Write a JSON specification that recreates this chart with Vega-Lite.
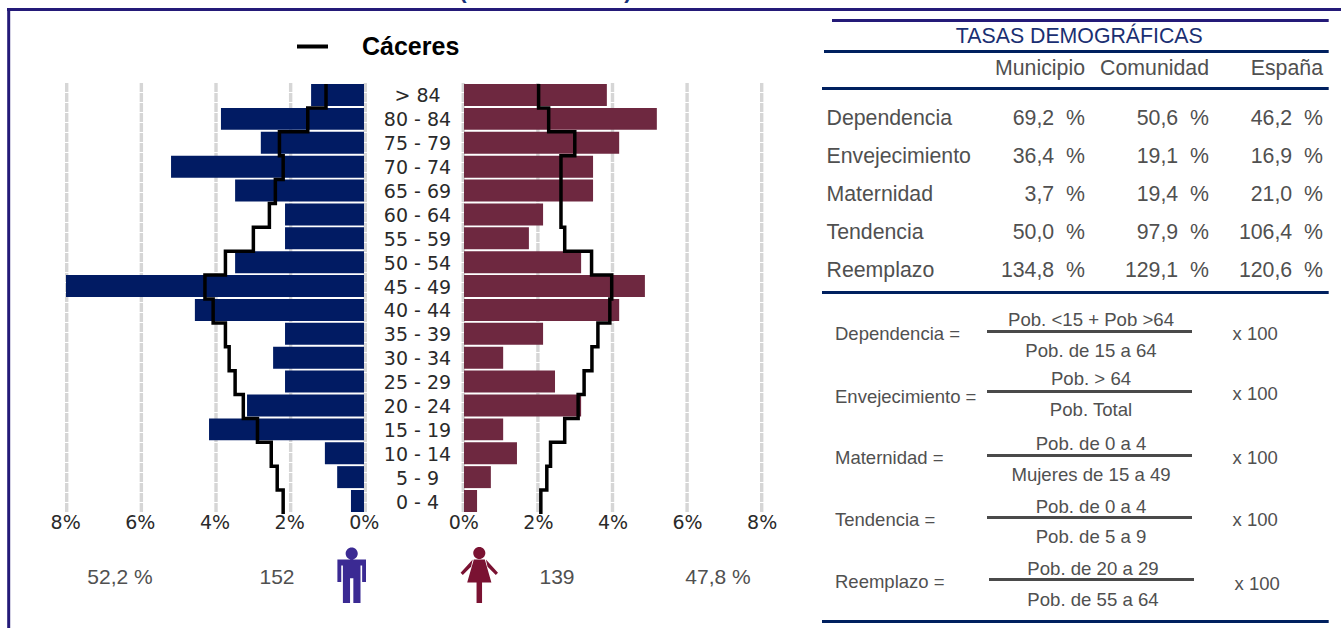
{
"$schema":"https://vega.github.io/schema/vega-lite/v6.json",
"width":1341,"height":628,"padding":0,"autosize":{"type":"none"},"background":"white",
"config":{"view":{"stroke":null},"text":{"font":"Liberation Sans","color":"#505050","fontSize":21.3,"baseline":"middle"},"axis":{"domain":false,"ticks":false,"grid":false,"title":null}},
"resolve":{"scale":{"x":"independent","y":"independent","color":"independent","stroke":"independent","shape":"independent"},"axis":{"x":"independent","y":"independent"}},
"datasets":{
"marcas":[{"pct":0},{"pct":2},{"pct":4},{"pct":6},{"pct":8}],
"edades":[
{"edad":"> 84","hombres":1.42,"mujeres":3.83},{"edad":"80 - 84","hombres":3.84,"mujeres":5.17},{"edad":"75 - 79","hombres":2.77,"mujeres":4.16},{"edad":"70 - 74","hombres":5.18,"mujeres":3.46},{"edad":"65 - 69","hombres":3.46,"mujeres":3.46},{"edad":"60 - 64","hombres":2.12,"mujeres":2.12},{"edad":"55 - 59","hombres":2.12,"mujeres":1.74},{"edad":"50 - 54","hombres":3.46,"mujeres":3.14},{"edad":"45 - 49","hombres":8.0,"mujeres":4.85},{"edad":"40 - 44","hombres":4.54,"mujeres":4.16},{"edad":"35 - 39","hombres":2.12,"mujeres":2.12},{"edad":"30 - 34","hombres":2.44,"mujeres":1.05},{"edad":"25 - 29","hombres":2.12,"mujeres":2.44},{"edad":"20 - 24","hombres":3.14,"mujeres":3.14},{"edad":"15 - 19","hombres":4.16,"mujeres":1.05},{"edad":"10 - 14","hombres":1.05,"mujeres":1.42},{"edad":"5 - 9","hombres":0.72,"mujeres":0.72},{"edad":"0 - 4","hombres":0.35,"mujeres":0.35}],
"perfil":[
{"orden":1,"serie":"Cáceres","edad":"> 84","hombres":1.02,"mujeres":2.0},{"orden":2,"serie":"Cáceres","edad":"80 - 84","hombres":1.51,"mujeres":2.27},{"orden":3,"serie":"Cáceres","edad":"75 - 79","hombres":2.27,"mujeres":2.97},{"orden":4,"serie":"Cáceres","edad":"70 - 74","hombres":2.17,"mujeres":2.6},{"orden":5,"serie":"Cáceres","edad":"65 - 69","hombres":2.38,"mujeres":2.6},{"orden":6,"serie":"Cáceres","edad":"60 - 64","hombres":2.54,"mujeres":2.6},{"orden":7,"serie":"Cáceres","edad":"55 - 59","hombres":2.97,"mujeres":2.7},{"orden":8,"serie":"Cáceres","edad":"50 - 54","hombres":3.72,"mujeres":3.42},{"orden":9,"serie":"Cáceres","edad":"45 - 49","hombres":4.27,"mujeres":3.96},{"orden":10,"serie":"Cáceres","edad":"40 - 44","hombres":4.05,"mujeres":3.91},{"orden":11,"serie":"Cáceres","edad":"35 - 39","hombres":3.72,"mujeres":3.59},{"orden":12,"serie":"Cáceres","edad":"30 - 34","hombres":3.62,"mujeres":3.43},{"orden":13,"serie":"Cáceres","edad":"25 - 29","hombres":3.46,"mujeres":3.22},{"orden":14,"serie":"Cáceres","edad":"20 - 24","hombres":3.24,"mujeres":3.06},{"orden":15,"serie":"Cáceres","edad":"15 - 19","hombres":2.86,"mujeres":2.7},{"orden":16,"serie":"Cáceres","edad":"10 - 14","hombres":2.49,"mujeres":2.32},{"orden":17,"serie":"Cáceres","edad":"5 - 9","hombres":2.33,"mujeres":2.22},{"orden":18,"serie":"Cáceres","edad":"0 - 4","hombres":2.17,"mujeres":2.06},{"orden":19,"serie":"Cáceres","edad":"base","hombres":2.17,"mujeres":2.06}],
"sexos":[{"sexo":"Hombres","personas":152,"porcentaje":"52,2 %"},{"sexo":"Mujeres","personas":139,"porcentaje":"47,8 %"}],
"ambitos":[{"ambito":"Municipio"},{"ambito":"Comunidad"},{"ambito":"España"}],
"tasas":[
{"tasa":"Dependencia","ambito":"Municipio","valor":69.2,"texto":"69,2\u00a0\u00a0%"},{"tasa":"Dependencia","ambito":"Comunidad","valor":50.6,"texto":"50,6\u00a0\u00a0%"},{"tasa":"Dependencia","ambito":"España","valor":46.2,"texto":"46,2\u00a0\u00a0%"},
{"tasa":"Envejecimiento","ambito":"Municipio","valor":36.4,"texto":"36,4\u00a0\u00a0%"},{"tasa":"Envejecimiento","ambito":"Comunidad","valor":19.1,"texto":"19,1\u00a0\u00a0%"},{"tasa":"Envejecimiento","ambito":"España","valor":16.9,"texto":"16,9\u00a0\u00a0%"},
{"tasa":"Maternidad","ambito":"Municipio","valor":3.7,"texto":"3,7\u00a0\u00a0%"},{"tasa":"Maternidad","ambito":"Comunidad","valor":19.4,"texto":"19,4\u00a0\u00a0%"},{"tasa":"Maternidad","ambito":"España","valor":21.0,"texto":"21,0\u00a0\u00a0%"},
{"tasa":"Tendencia","ambito":"Municipio","valor":50.0,"texto":"50,0\u00a0\u00a0%"},{"tasa":"Tendencia","ambito":"Comunidad","valor":97.9,"texto":"97,9\u00a0\u00a0%"},{"tasa":"Tendencia","ambito":"España","valor":106.4,"texto":"106,4\u00a0\u00a0%"},
{"tasa":"Reemplazo","ambito":"Municipio","valor":134.8,"texto":"134,8\u00a0\u00a0%"},{"tasa":"Reemplazo","ambito":"Comunidad","valor":129.1,"texto":"129,1\u00a0\u00a0%"},{"tasa":"Reemplazo","ambito":"España","valor":120.6,"texto":"120,6\u00a0\u00a0%"}],
"formulas":[
{"tasa":"Dependencia","etiqueta":"Dependencia =","numerador":"Pob. <15 + Pob >64","denominador":"Pob. de 15 a 64","factor":"x 100"},
{"tasa":"Envejecimiento","etiqueta":"Envejecimiento =","numerador":"Pob. > 64","denominador":"Pob. Total","factor":"x 100"},
{"tasa":"Maternidad","etiqueta":"Maternidad =","numerador":"Pob. de 0 a 4","denominador":"Mujeres de 15 a 49","factor":"x 100"},
{"tasa":"Tendencia","etiqueta":"Tendencia =","numerador":"Pob. de 0 a 4","denominador":"Pob. de 5 a 9","factor":"x 100"},
{"tasa":"Reemplazo","etiqueta":"Reemplazo =","numerador":"Pob. de 20 a 29","denominador":"Pob. de 55 a 64","factor":"x 100"}],
"parentesis":[{"signo":"("},{"signo":")"}],
"una":[{"n":1}]
},
"layer":[
{"data":{"name":"parentesis"},"mark":{"type":"text","fontSize":22,"fontWeight":"bold","color":"#15307a","baseline":"alphabetic"},"encoding":{"x":{"field":"signo","type":"nominal","scale":{"type":"point","domain":["(",")"],"range":[463,628],"padding":0},"axis":null},"y":{"datum":0,"type":"quantitative","scale":{"domain":[0,1],"range":[-2,-1]},"axis":null},"text":{"field":"signo"}}},
{"data":{"name":"una"},"mark":{"type":"rule","strokeWidth":3,"color":"#241a78"},"encoding":{"x":{"datum":0,"type":"quantitative","scale":{"domain":[0,1],"range":[7,1341]},"axis":null},"x2":{"datum":1},"y":{"datum":0,"type":"quantitative","scale":{"domain":[0,1],"range":[9.5,10.5]},"axis":null}}},
{"data":{"name":"una"},"mark":{"type":"rule","strokeWidth":3,"color":"#241a78"},"encoding":{"y":{"datum":0,"type":"quantitative","scale":{"domain":[0,1],"range":[8,628]},"axis":null},"y2":{"datum":1},"x":{"datum":0,"type":"quantitative","scale":{"domain":[0,1],"range":[8.7,9.7]},"axis":null}}},
{"data":{"name":"una"},"mark":{"type":"rule","strokeWidth":3,"color":"#241a78"},"encoding":{"x":{"datum":0,"type":"quantitative","scale":{"domain":[0,1],"range":[832,1328.7]},"axis":null},"x2":{"datum":1},"y":{"datum":0,"type":"quantitative","scale":{"domain":[0,1],"range":[20.5,21.5]},"axis":null}}},
{"data":{"name":"una"},"mark":{"type":"rule","strokeWidth":3,"color":"#00205f"},"encoding":{"x":{"datum":0,"type":"quantitative","scale":{"domain":[0,1],"range":[824,1328.7]},"axis":null},"x2":{"datum":1},"y":{"datum":0,"type":"quantitative","scale":{"domain":[0,1],"range":[51.5,52.5]},"axis":null}}},
{"data":{"name":"una"},"mark":{"type":"rule","strokeWidth":3,"color":"#00205f"},"encoding":{"x":{"datum":0,"type":"quantitative","scale":{"domain":[0,1],"range":[822,1328.7]},"axis":null},"x2":{"datum":1},"y":{"datum":0,"type":"quantitative","scale":{"domain":[0,1],"range":[88.5,89.5]},"axis":null}}},
{"data":{"name":"una"},"mark":{"type":"rule","strokeWidth":3,"color":"#00205f"},"encoding":{"x":{"datum":0,"type":"quantitative","scale":{"domain":[0,1],"range":[822,1328.7]},"axis":null},"x2":{"datum":1},"y":{"datum":0,"type":"quantitative","scale":{"domain":[0,1],"range":[292.5,293.5]},"axis":null}}},
{"data":{"name":"una"},"mark":{"type":"rule","strokeWidth":3,"color":"#00205f"},"encoding":{"x":{"datum":0,"type":"quantitative","scale":{"domain":[0,1],"range":[822,1328.7]},"axis":null},"x2":{"datum":1},"y":{"datum":0,"type":"quantitative","scale":{"domain":[0,1],"range":[621.5,622.5]},"axis":null}}},

{"data":{"name":"marcas"},"mark":{"type":"rule","strokeWidth":3.4,"color":"#d6d6d6","strokeDash":[9,1]},"encoding":{"x":{"field":"pct","type":"quantitative","scale":{"domain":[0,8],"range":[365.3,66.7],"nice":false},"axis":{"orient":"bottom","offset":-115,"values":[0,2,4,6,8],"labelExpr":"datum.value+'%'","labelFont":"DejaVu Sans","labelFontSize":19,"labelColor":"#2a2a2a","labelPadding":0,"labelOffset":-1.5,"labelFlush":false,"labelOverlap":false}},"y":{"datum":0,"type":"quantitative","scale":{"domain":[0,1],"range":[83,513]},"axis":null},"y2":{"datum":1}}},
{"data":{"name":"marcas"},"mark":{"type":"rule","strokeWidth":3.4,"color":"#d6d6d6","strokeDash":[9,1]},"encoding":{"x":{"field":"pct","type":"quantitative","scale":{"domain":[0,8],"range":[463.3,761.7],"nice":false},"axis":{"orient":"bottom","offset":-115,"values":[0,2,4,6,8],"labelExpr":"datum.value+'%'","labelFont":"DejaVu Sans","labelFontSize":19,"labelColor":"#2a2a2a","labelPadding":0,"labelFlush":false,"labelOverlap":false}},"y":{"datum":0,"type":"quantitative","scale":{"domain":[0,1],"range":[83,513]},"axis":null},"y2":{"datum":1}}},
{"data":{"name":"edades"},"mark":{"type":"bar","color":"#011b63"},"encoding":{"x":{"field":"hombres","type":"quantitative","stack":null,"scale":{"domain":[0,8],"range":[364,66],"nice":false},"axis":null},"y":{"field":"edad","type":"nominal","sort":null,"scale":{"type":"band","range":[84,512],"paddingInner":0.08,"paddingOuter":0},"axis":{"orient":"left","offset":-417,"labelAlign":"center","labelBaseline":"middle","labelPadding":0,"labelOffset":1.5,"labelFont":"DejaVu Sans","labelFontSize":19,"labelColor":"#2a2a2a","labelOverlap":false}}}},
{"data":{"name":"edades"},"mark":{"type":"bar","color":"#6e2840"},"encoding":{"x":{"field":"mujeres","type":"quantitative","stack":null,"scale":{"domain":[0,8],"range":[464,762.4],"nice":false},"axis":null},"y":{"field":"edad","type":"nominal","sort":null,"scale":{"type":"band","range":[84,512],"paddingInner":0.08,"paddingOuter":0},"axis":null}}},
{"data":{"name":"perfil"},"mark":{"type":"line","interpolate":"step-before","strokeWidth":3.5,"strokeJoin":"miter"},"encoding":{"x":{"field":"hombres","type":"quantitative","scale":{"domain":[0,8],"range":[364,66],"nice":false},"axis":null},"y":{"field":"edad","type":"ordinal","sort":null,"scale":{"type":"point","range":[84,514],"padding":0},"axis":null},"order":{"field":"orden"},"stroke":{"field":"serie","type":"nominal","scale":{"domain":["Cáceres"],"range":["#000000"]},"legend":{"orient":"none","legendX":295,"legendY":29,"title":null,"symbolType":"stroke","symbolSize":961,"symbolStrokeWidth":4,"labelOffset":32,"labelFont":"Liberation Sans","labelFontWeight":"bold","labelFontSize":25,"labelColor":"#000"}}}},
{"data":{"name":"perfil"},"mark":{"type":"line","interpolate":"step-before","strokeWidth":3.5,"strokeJoin":"miter","color":"#000000"},"encoding":{"x":{"field":"mujeres","type":"quantitative","scale":{"domain":[0,8],"range":[464,762.4],"nice":false},"axis":null},"y":{"field":"edad","type":"ordinal","sort":null,"scale":{"type":"point","range":[84,514],"padding":0},"axis":null},"order":{"field":"orden"}}},

{"data":{"name":"sexos"},"mark":{"type":"text","align":"center","fontSize":21},"encoding":{"x":{"field":"sexo","type":"nominal","scale":{"type":"point","domain":["Hombres","Mujeres"],"range":[120,718],"padding":0},"axis":null},"y":{"datum":0,"type":"quantitative","scale":{"domain":[0,1],"range":[578,579]},"axis":null},"text":{"field":"porcentaje"}}},
{"data":{"name":"sexos"},"mark":{"type":"text","align":"center","fontSize":21},"encoding":{"x":{"field":"sexo","type":"nominal","scale":{"type":"point","domain":["Hombres","Mujeres"],"range":[277,557],"padding":0},"axis":null},"y":{"datum":0,"type":"quantitative","scale":{"domain":[0,1],"range":[578,579]},"axis":null},"text":{"field":"personas"}}},
{"data":{"name":"sexos"},"mark":{"type":"point","filled":true,"opacity":1,"size":3025},"encoding":{"x":{"field":"sexo","type":"nominal","scale":{"type":"point","domain":["Hombres","Mujeres"],"range":[351.7,479.3],"padding":0},"axis":null},"y":{"datum":0,"type":"quantitative","scale":{"domain":[0,1],"range":[575.5,576.5]},"axis":null},
"color":{"field":"sexo","type":"nominal","scale":{"domain":["Hombres","Mujeres"],"range":["#3b2a93","#7a1232"]},"legend":null},
"shape":{"field":"sexo","type":"nominal","scale":{"domain":["Hombres","Mujeres"],"range":["M-0.22,-0.8A0.22,0.22 0 1,1 0.22,-0.8A0.22,0.22 0 1,1 -0.22,-0.8ZM-0.52,-0.58L0.52,-0.58L0.52,0.24L0.38,0.24L0.38,-0.36L0.32,-0.36L0.32,1L0.06,1L0.06,0.1L-0.06,0.1L-0.06,1L-0.32,1L-0.32,-0.36L-0.38,-0.36L-0.38,0.24L-0.52,0.24Z","M-0.22,-0.82A0.22,0.22 0 1,1 0.22,-0.82A0.22,0.22 0 1,1 -0.22,-0.82ZM-0.2,-0.58L0.2,-0.58L0.44,0.25L0.1,0.25L0.1,1L-0.1,1L-0.1,0.25L-0.44,0.25ZM0.24,-0.58L0.68,-0.1L0.6,-0.02L0.3,-0.32ZM-0.24,-0.58L-0.68,-0.1L-0.6,-0.02L-0.3,-0.32Z"]},"legend":null}}},

{"data":{"name":"una"},"mark":{"type":"text","color":"#1a2f72","align":"center","text":"TASAS DEMOGRÁFICAS"},"encoding":{"x":{"datum":0,"type":"quantitative","scale":{"domain":[0,1],"range":[1079.3,1080.3]},"axis":null},"y":{"datum":0,"type":"quantitative","scale":{"domain":[0,1],"range":[36.5,37.5]},"axis":null}}},
{"data":{"name":"ambitos"},"mark":{"type":"text","align":"right","dx":{"expr":"datum.ambito==='Comunidad'?5:0"}},"encoding":{"x":{"field":"ambito","type":"nominal","sort":null,"scale":{"type":"point","range":[1085,1323],"padding":0},"axis":null},"y":{"datum":0,"type":"quantitative","scale":{"domain":[0,1],"range":[69,70]},"axis":null},"text":{"field":"ambito"}}},
{"data":{"name":"tasas"},"mark":{"type":"text","align":"right","dx":{"expr":"datum.ambito==='Comunidad'?5:0"}},"encoding":{"x":{"field":"ambito","type":"nominal","sort":null,"scale":{"type":"point","domain":["Municipio","Comunidad","España"],"range":[1085,1323],"padding":0},"axis":null},"y":{"field":"tasa","type":"nominal","sort":null,"scale":{"type":"point","domain":["Dependencia","Envejecimiento","Maternidad","Tendencia","Reemplazo"],"range":[119,271],"padding":0},"axis":null},"text":{"field":"texto"}}},
{"data":{"name":"formulas"},"mark":{"type":"text","align":"left"},"encoding":{"x":{"datum":0,"type":"quantitative","scale":{"domain":[0,1],"range":[826.5,827.5]},"axis":null},"y":{"field":"tasa","type":"nominal","sort":null,"scale":{"type":"point","range":[119,271],"padding":0},"axis":null},"text":{"field":"tasa"}}},

{"data":{"name":"formulas"},"transform":[{"filter":"datum.tasa==='Dependencia'||datum.tasa==='Maternidad'||datum.tasa==='Tendencia'"}],"mark":{"type":"rule","strokeWidth":3,"color":"#4a4a4a"},"encoding":{"x":{"datum":0,"type":"quantitative","scale":{"domain":[0,1],"range":[987,1192]},"axis":null},"x2":{"datum":1},"y":{"field":"tasa","type":"nominal","scale":{"type":"point","domain":["Dependencia","Envejecimiento","Maternidad","Tendencia"],"range":[331.5,517.5],"padding":0},"axis":null}}},
{"data":{"name":"formulas"},"transform":[{"filter":"datum.tasa==='Envejecimiento'"}],"mark":{"type":"rule","strokeWidth":3,"color":"#4a4a4a"},"encoding":{"x":{"datum":0,"type":"quantitative","scale":{"domain":[0,1],"range":[987,1192]},"axis":null},"x2":{"datum":1},"y":{"datum":0,"type":"quantitative","scale":{"domain":[0,1],"range":[391.5,392.5]},"axis":null}}},
{"data":{"name":"formulas"},"transform":[{"filter":"datum.tasa==='Reemplazo'"}],"mark":{"type":"rule","strokeWidth":3,"color":"#4a4a4a"},"encoding":{"x":{"datum":0,"type":"quantitative","scale":{"domain":[0,1],"range":[989,1194]},"axis":null},"x2":{"datum":1},"y":{"datum":0,"type":"quantitative","scale":{"domain":[0,1],"range":[579.5,580.5]},"axis":null}}},

{"data":{"name":"formulas"},"mark":{"type":"text","align":"left","fontSize":18.5,"dy":{"expr":"datum.tasa==='Envejecimiento'?1:0"}},"encoding":{"x":{"datum":0,"type":"quantitative","scale":{"domain":[0,1],"range":[835,836]},"axis":null},"y":{"field":"tasa","type":"nominal","sort":null,"scale":{"type":"point","range":[333.5,581.5],"padding":0},"axis":null},"text":{"field":"etiqueta"}}},
{"data":{"name":"formulas"},"mark":{"type":"text","align":"center","fontSize":18.6,"dx":{"expr":"datum.tasa==='Reemplazo'?2:0"},"dy":{"expr":"datum.tasa==='Envejecimiento'?-2.5:0"}},"encoding":{"x":{"datum":0,"type":"quantitative","scale":{"domain":[0,1],"range":[1091,1092]},"axis":null},"y":{"field":"tasa","type":"nominal","sort":null,"scale":{"type":"point","range":[319.5,569],"padding":0},"axis":null},"text":{"field":"numerador"}}},
{"data":{"name":"formulas"},"mark":{"type":"text","align":"center","fontSize":18.6,"dx":{"expr":"datum.tasa==='Reemplazo'?2:0"},"dy":{"expr":"datum.tasa==='Envejecimiento'?-2.5:0"}},"encoding":{"x":{"datum":0,"type":"quantitative","scale":{"domain":[0,1],"range":[1091,1092]},"axis":null},"y":{"field":"tasa","type":"nominal","sort":null,"scale":{"type":"point","range":[350.5,599.5],"padding":0},"axis":null},"text":{"field":"denominador"}}},
{"data":{"name":"formulas"},"mark":{"type":"text","align":"left","fontSize":18.5,"dx":{"expr":"datum.tasa==='Reemplazo'?2:0"},"dy":{"expr":"datum.tasa==='Envejecimiento'?-2:(datum.tasa==='Reemplazo'?2:0)"}},"encoding":{"x":{"datum":0,"type":"quantitative","scale":{"domain":[0,1],"range":[1232.5,1233.5]},"axis":null},"y":{"field":"tasa","type":"nominal","sort":null,"scale":{"type":"point","range":[333.5,581.5],"padding":0},"axis":null},"text":{"field":"factor"}}}
]
}
